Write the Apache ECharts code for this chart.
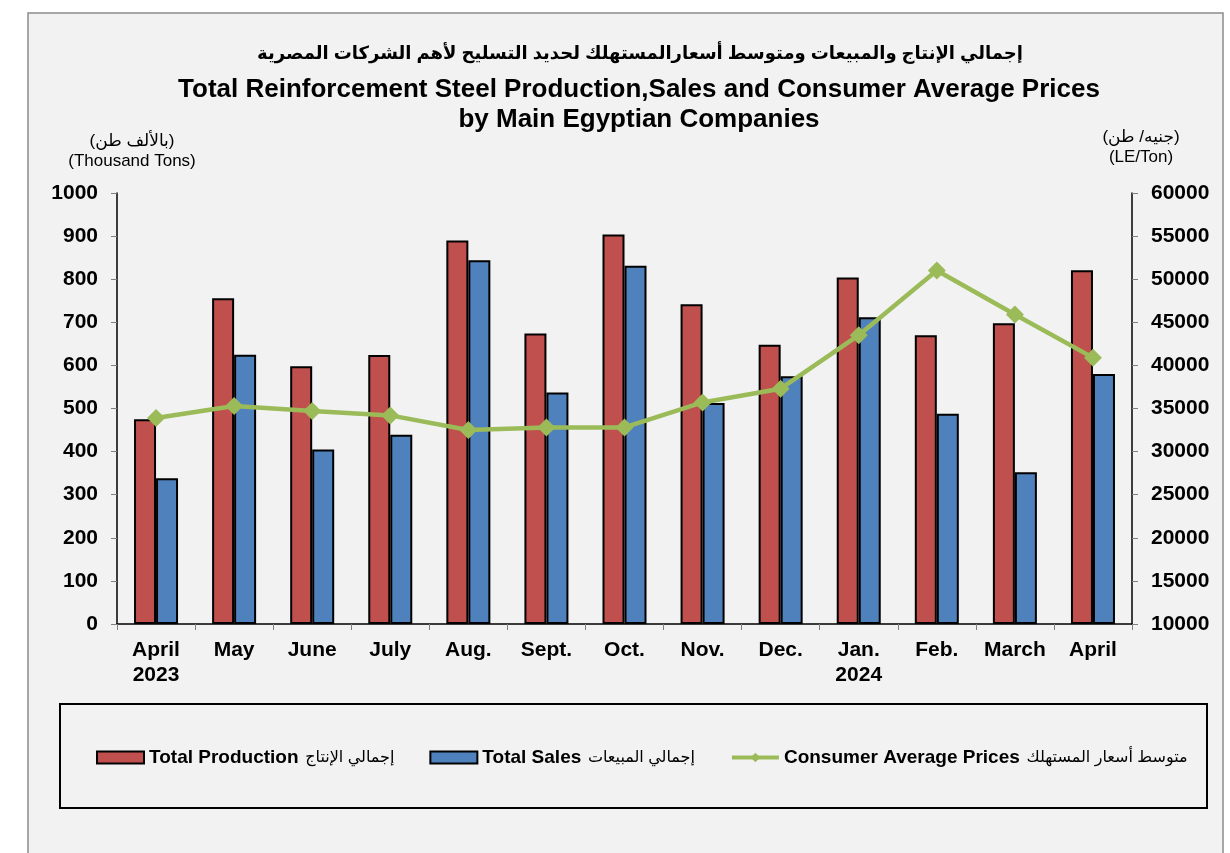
<!DOCTYPE html>
<html>
<head>
<meta charset="utf-8">
<title>Reinforcement Steel</title>
<script src="https://cdn.jsdelivr.net/npm/echarts@6/dist/echarts.min.js"></script>
<style>
  html, body { margin: 0; padding: 0; background: #ffffff; }
  #myChart { width: 1230px; height: 853px; }
</style>
</head>
<body>
<div id="myChart"></div>
<script>
// categories (x axis)
var months = ['April\n2023', 'May', 'June', 'July', 'Aug.', 'Sept.', 'Oct.', 'Nov.', 'Dec.', 'Jan.\n2024', 'Feb.', 'March', 'April'];
// thousand tons
var production = [475, 756, 598, 624, 890, 674, 904, 742, 648, 804, 670, 698, 821];
var sales = [338, 625, 405, 439, 844, 537, 831, 513, 575, 712, 488, 352, 580];
// LE/Ton
var prices = [33900, 35300, 34700, 34200, 32500, 32800, 32800, 35700, 37300, 43500, 51000, 45900, 40900];

var seriesNames = ['Total Production', 'Total Sales', 'Consumer Average Prices'];
var arabicNames = {
  'Total Production': 'إجمالي الإنتاج',
  'Total Sales': 'إجمالي المبيعات',
  'Consumer Average Prices': 'متوسط أسعار المستهلك'
};

var font = 'Liberation Sans, Arial, DejaVu Sans, sans-serif';

var myChart = echarts.init(document.getElementById('myChart'));
myChart.setOption({
  backgroundColor: '#ffffff',
  textStyle: { fontFamily: font },
  animation: false,
  title: [
    {
      text: 'إجمالي الإنتاج والمبيعات ومتوسط أسعارالمستهلك لحديد التسليح لأهم الشركات المصرية',
      left: 635, top: 40, textAlign: 'center',
      textStyle: { fontSize: 18, fontWeight: 'bold', color: '#000', fontFamily: font }
    },
    {
      text: 'Total Reinforcement Steel Production,Sales and Consumer Average Prices\nby Main Egyptian Companies',
      left: 634, top: 70, textAlign: 'center',
      textStyle: { fontSize: 26, fontWeight: 'bold', color: '#000', lineHeight: 30, fontFamily: font }
    }
  ],
  graphic: [
    // outer panel
    { type: 'rect', z: -10, silent: true,
      shape: { x: 28, y: 13, width: 1195, height: 880 },
      style: { fill: '#f2f2f2', stroke: '#8c8c8c', lineWidth: 1.5 } },
    // legend box
    { type: 'rect', z: -5, silent: true,
      shape: { x: 60, y: 704, width: 1147, height: 104 },
      style: { fill: 'none', stroke: '#000', lineWidth: 2 } },
    // unit labels
    { type: 'text', silent: true,
      style: { text: '(بالألف طن)\n(Thousand Tons)', x: 132, y: 131, textAlign: 'center',
        font: '17px ' + font, fill: '#000', lineHeight: 20 } },
    { type: 'text', silent: true,
      style: { text: '(جنيه/ طن)\n(LE/Ton)', x: 1141, y: 127, textAlign: 'center',
        font: '17px ' + font, fill: '#000', lineHeight: 20 } }
  ],
  legend: {
    data: [
      { name: 'Total Production', icon: 'rect' },
      { name: 'Total Sales', icon: 'rect' },
      { name: 'Consumer Average Prices', lineStyle: { width: 4 } }
    ],
    left: 91, top: 743,
    itemWidth: 47, itemHeight: 12, itemGap: 35,
    formatter: function (name) {
      return '{en|' + name + '}  {ar|' + arabicNames[name] + '}';
    },
    textStyle: {
      rich: {
        en: { fontSize: 19, fontWeight: 'bold', color: '#000', fontFamily: font },
        ar: { fontSize: 16, color: '#000', fontFamily: font }
      }
    }
  },
  grid: { left: 117, right: 98, top: 193, bottom: 229, containLabel: false },
  xAxis: {
    type: 'category',
    data: months,
    axisLine: { lineStyle: { color: '#000', width: 1.5 } },
    axisTick: { show: true, length: 6, lineStyle: { color: '#808080' } },
    axisLabel: { fontSize: 21, fontWeight: 'bold', color: '#000', lineHeight: 25, margin: 14, interval: 0 }
  },
  yAxis: [
    {
      type: 'value', min: 0, max: 1000, interval: 100,
      axisLine: { show: true, lineStyle: { color: '#000', width: 1.5 } },
      axisTick: { show: true, length: 6, lineStyle: { color: '#808080' } },
      axisLabel: { fontSize: 21, fontWeight: 'bold', color: '#000', margin: 19,
        formatter: function (v) { return String(v); } },
      splitLine: { show: false }
    },
    {
      type: 'value', min: 10000, max: 60000, interval: 5000,
      position: 'right',
      axisLine: { show: true, lineStyle: { color: '#000', width: 1.5 } },
      axisTick: { show: true, length: 6, lineStyle: { color: '#808080' } },
      axisLabel: { fontSize: 21, fontWeight: 'bold', color: '#000', margin: 19,
        formatter: function (v) { return String(v); } },
      splitLine: { show: false }
    }
  ],
  series: [
    {
      name: 'Total Production', type: 'bar', data: production,
      barWidth: 22, barGap: '0%',
      itemStyle: { color: '#c0504d', borderColor: '#000', borderWidth: 2 }
    },
    {
      name: 'Total Sales', type: 'bar', data: sales,
      barWidth: 22, barGap: '0%',
      itemStyle: { color: '#4f81bd', borderColor: '#000', borderWidth: 2 }
    },
    {
      name: 'Consumer Average Prices', type: 'line', data: prices, yAxisIndex: 1,
      symbol: 'diamond', symbolSize: 18, z: 5,
      lineStyle: { color: '#9bbb59', width: 4.5 },
      itemStyle: { color: '#9bbb59' }
    }
  ]
});
window.addEventListener('resize', function () { myChart.resize(); });
</script>
</body>
</html>
